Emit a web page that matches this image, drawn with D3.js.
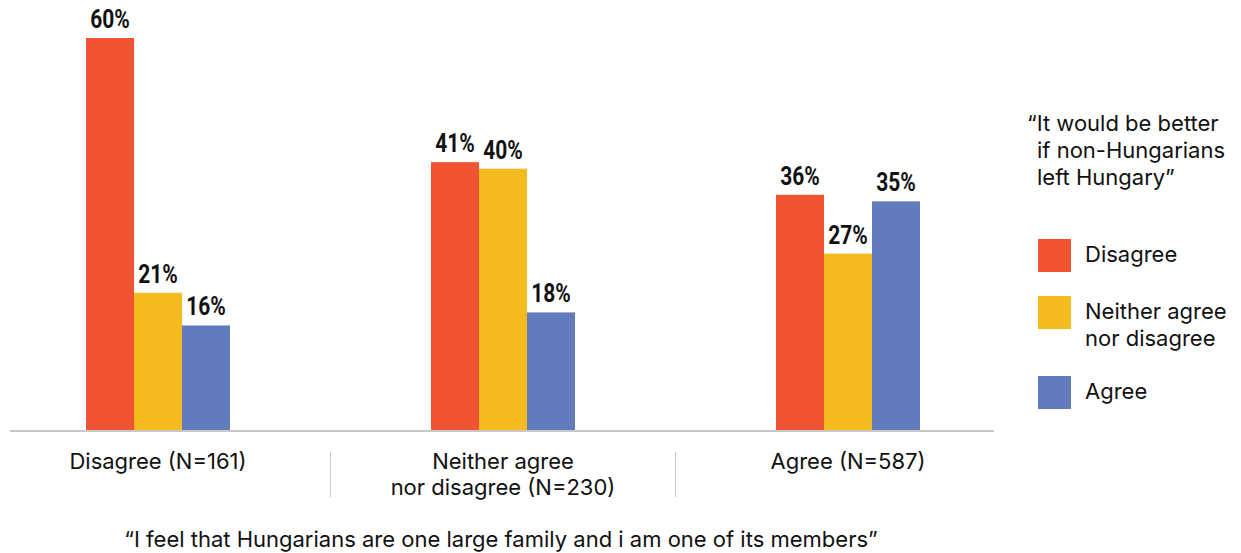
<!DOCTYPE html>
<html>
<head>
<meta charset="utf-8">
<script src="https://cdn.jsdelivr.net/npm/d3@7"></script>
<style>
  html, body { margin: 0; padding: 0; background: #fff; }
  svg { display: block; }
  .cat, .legend text, .title { font-family: Inter, "Noto Sans", sans-serif; fill: #111; font-size: 22px; }
  .val { font-family: Roboto, "Liberation Sans", sans-serif; font-weight: bold; font-size: 25px; fill: #111; text-anchor: middle; }
</style>
</head>
<body>
<svg id="chart" width="1241" height="553"></svg>
<script>
// Answers to "I feel that Hungarians are one large family..." (groups)
const categories = ["Disagree (N=161)", "Neither agree\nnor disagree (N=230)", "Agree (N=587)"];
// Answers to "It would be better if non-Hungarians left Hungary" (series)
const seriesNames = ["Disagree", "Neither agree\nnor disagree", "Agree"];
const disagree = [60, 41, 36];
const neither = [21, 40, 27];
const agree = [16, 18, 35];
const colors = ["#F05433", "#F5BA1E", "#627BBD"];
const legendTitle = ["\u201CIt would be better", "if non-Hungarians", "left Hungary\u201D"];
const xTitle = "\u201CI feel that Hungarians are one large family and i am one of its members\u201D";

const seriesValues = [disagree, neither, agree];
const svg = d3.select("#chart");

const x = d3.scaleBand().domain(categories).range([-14.5, 1020.5]);
const xs = d3.scaleBand().domain(seriesNames).range([100.5, 244.5]);
const y = d3.scaleLinear().domain([0, 60]).range([430, 38]);

const rows = [];
categories.forEach((c, i) => seriesNames.forEach((s, j) => rows.push({ c, s, j, v: seriesValues[j][i] })));

// Bars
svg.append("g").selectAll("rect").data(rows).join("rect")
  .attr("x", d => x(d.c) + xs(d.s))
  .attr("y", d => y(d.v))
  .attr("width", xs.bandwidth())
  .attr("height", d => y(0) - y(d.v))
  .attr("fill", d => colors[d.j]);

// Value labels (condensed by a horizontal scale)
svg.append("g").selectAll("text").data(rows).join("text")
  .attr("class", "val")
  .attr("transform", d => `translate(${x(d.c) + xs(d.s) + xs.bandwidth() / 2},${y(d.v) - 10}) scale(0.84,1)`)
  .text(d => d.v + "%");

// Baseline
svg.append("line")
  .attr("x1", 10).attr("x2", 994)
  .attr("y1", y(0) + 1).attr("y2", y(0) + 1)
  .attr("stroke", "#c8c8c8").attr("stroke-width", 2);

// Separators between category labels
svg.append("g").selectAll("line").data(categories.slice(1)).join("line")
  .attr("x1", d => x(d)).attr("x2", d => x(d))
  .attr("y1", 452).attr("y2", 497)
  .attr("stroke", "#c8c8c8").attr("stroke-width", 1);

// Category labels
const cat = svg.append("g").selectAll("text").data(categories).join("text")
  .attr("class", "cat")
  .attr("text-anchor", "middle")
  .attr("x", d => x(d) + x.bandwidth() / 2)
  .attr("y", 469);
cat.selectAll("tspan").data(d => d.split("\n")).join("tspan")
  .attr("x", function () { return d3.select(this.parentNode).attr("x"); })
  .attr("dy", (d, i) => i === 0 ? 0 : 26)
  .text(d => d);

// Axis title
svg.append("text").attr("class", "title")
  .attr("x", 501).attr("y", 547)
  .attr("text-anchor", "middle")
  .text(xTitle);

// Legend
const legend = svg.append("g").attr("class", "legend");
legend.selectAll("text.lt").data(legendTitle).join("text")
  .attr("class", "lt")
  .attr("x", (d, i) => i === 0 ? 1027 : 1037)
  .attr("y", (d, i) => 131 + i * 27)
  .text(d => d);

const legendY = [239, 296, 376];
const items = legend.selectAll("g.item").data(seriesNames).join("g")
  .attr("class", "item")
  .attr("transform", (d, i) => `translate(1038,${legendY[i]})`);
items.append("rect").attr("width", 33).attr("height", 33).attr("fill", (d, i) => colors[i]);
items.append("text").attr("x", 47).attr("y", 23)
  .selectAll("tspan").data(d => d.split("\n")).join("tspan")
  .attr("x", 47).attr("dy", (d, i) => i === 0 ? 0 : 27)
  .text(d => d);
</script>
</body>
</html>
